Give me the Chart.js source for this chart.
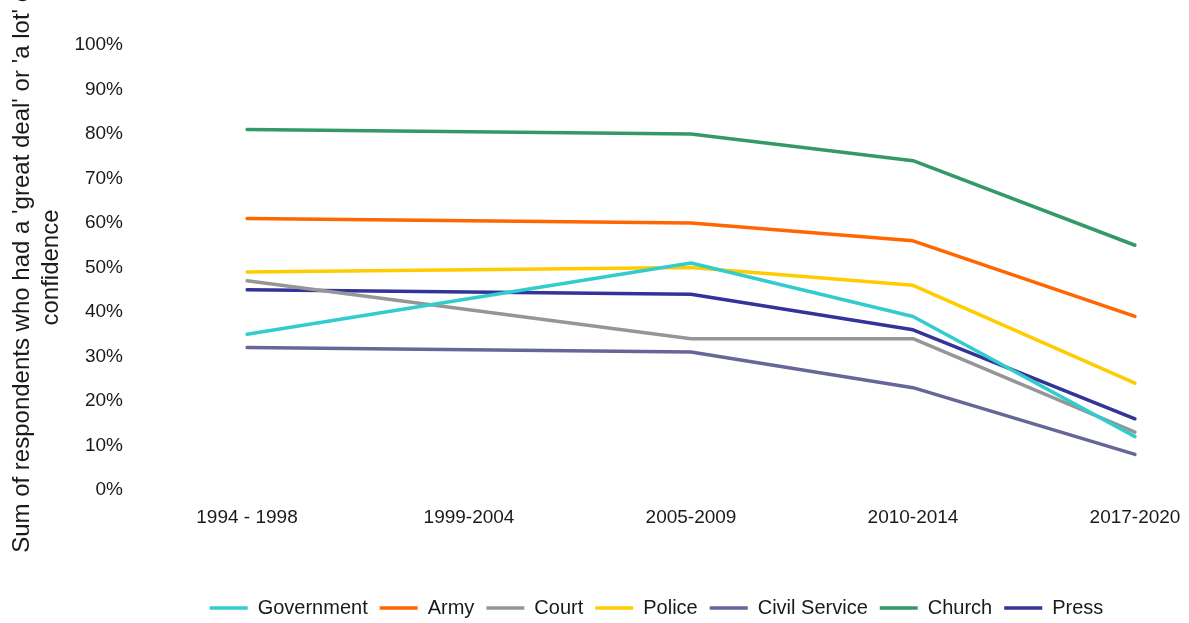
<!DOCTYPE html>
<html>
<head>
<meta charset="utf-8">
<title>Confidence in institutions</title>
<script src="https://cdn.jsdelivr.net/npm/chart.js@4/dist/chart.umd.min.js"></script>
<style>
  html, body { margin: 0; padding: 0; background: #fff; }
  #wrap { width: 1189px; height: 623px; }
</style>
</head>
<body>
<div id="wrap"><canvas id="chart" width="1189" height="623"></canvas></div>
<script>
// survey periods (no survey in 1999-2004, lines span the gap)
const periods = ['1994 - 1998', '1999-2004', '2005-2009', '2010-2014', '2017-2020'];

// % answering 'a great deal' or 'a lot'
const government   = [35, null, 51, 39, 12];
const army         = [61, null, 60, 56, 39];
const court        = [47, null, 34, 34, 13];
const police       = [49, null, 50, 46, 24];
const civilService = [32, null, 31, 23, 8];
const church       = [81, null, 80, 74, 55];
const press        = [45, null, 44, 36, 16];

const yTicks = [0, 10, 20, 30, 40, 50, 60, 70, 80, 90, 100];

const FONT = "'Liberation Sans', Arial, sans-serif";
const TEXT = '#1a1a1a';

function series(label, values, color) {
    return {
        label: label,
        data: values,
        borderColor: color,
        backgroundColor: color,
        borderWidth: 3.5,
        pointRadius: 0,
        pointHoverRadius: 0,
        tension: 0,
        spanGaps: true,
        borderCapStyle: 'round',
        borderJoinStyle: 'round',
        pointStyle: 'line'
    };
}

// nudge the legend row to the right, under the plot
const legendShift = {
    id: 'legendShift',
    afterLayout(chart) {
        const lg = chart.legend;
        if (!lg) return;
        lg.left += 62;
        lg.right += 62;
    }
};

new Chart(document.getElementById('chart'), {
    type: 'line',
    data: {
        labels: periods,
        datasets: [
            series('Government', government, '#33CCCC'),
            series('Army', army, '#FF6600'),
            series('Court', court, '#969696'),
            series('Police', police, '#FFCC00'),
            series('Civil Service', civilService, '#666699'),
            series('Church', church, '#339966'),
            series('Press', press, '#333399')
        ]
    },
    options: {
        responsive: false,
        animation: false,
        layout: { padding: { top: 45, right: 0, bottom: -5, left: 0 } },
        plugins: {
            tooltip: { enabled: false },
            legend: {
                position: 'bottom',
                labels: {
                    usePointStyle: true,
                    pointStyleWidth: 38,
                    padding: 12,
                    color: TEXT,
                    font: { family: FONT, size: 20 }
                }
            }
        },
        scales: {
            x: {
                offset: false,
                grid: { display: false, drawTicks: false },
                border: { display: false },
                ticks: {
                    color: TEXT,
                    font: { family: FONT, size: 19 },
                    padding: 16,
                    maxRotation: 0,
                    autoSkip: false
                },
                afterFit(scale) {
                    scale.height = 96;
                    scale.paddingLeft = 0;
                    scale.paddingRight = 54;
                }
            },
            y: {
                min: 0,
                max: 100,
                grid: { display: false, drawTicks: false },
                border: { display: false },
                afterBuildTicks(scale) {
                    scale.ticks = yTicks.map(v => ({ value: v }));
                },
                ticks: {
                    color: TEXT,
                    font: { family: FONT, size: 19 },
                    padding: 124,
                    callback: v => v + '%'
                },
                title: {
                    display: true,
                    text: ["Sum of respondents who had a 'great deal' or 'a lot' of", 'confidence'],
                    color: TEXT,
                    font: { family: FONT, size: 24, lineHeight: 1.2 },
                    padding: { top: 8, bottom: 0 }
                },
                afterFit(scale) {
                    scale.width = 247;
                    // the wide label gap should not pad the plot vertically
                    scale.paddingTop = 0;
                    scale.paddingBottom = 0;
                }
            }
        }
    },
    plugins: [legendShift]
});
</script>
</body>
</html>
